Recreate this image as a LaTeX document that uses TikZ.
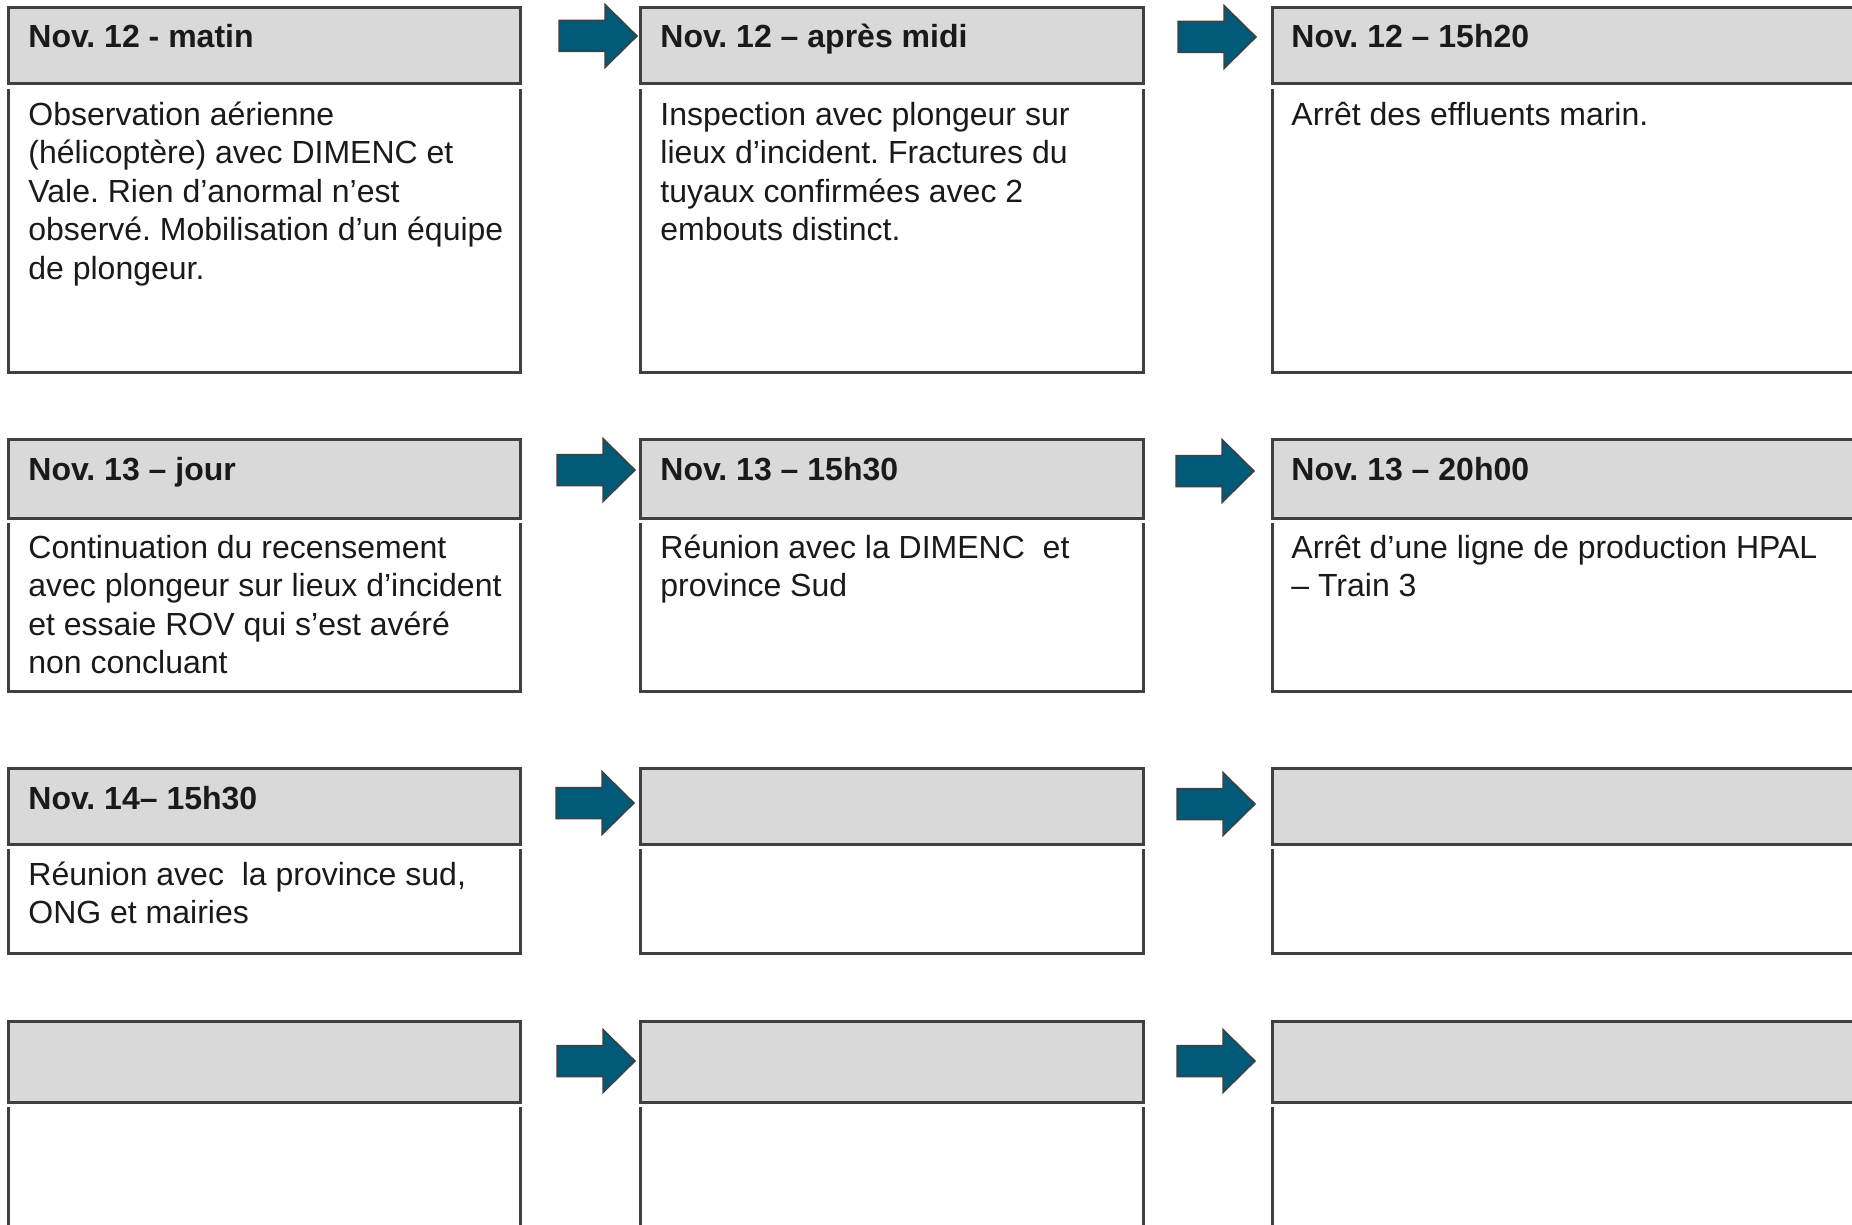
\documentclass[tikz,border=0pt]{standalone}
\usepackage{fontspec}
\setmainfont{Liberation Sans}
\frenchspacing
\definecolor{bordgray}{HTML}{404040}
\definecolor{hdrfill}{HTML}{D9D9D9}
\definecolor{arrfill}{HTML}{005A78}
\definecolor{txtcol}{HTML}{1A1A1A}
\tikzset{
  hdrbox/.style={draw=bordgray, fill=hdrfill, line width=1.5pt, anchor=north west, inner sep=0pt, outer sep=0pt},
  bodyline/.style={draw=bordgray, line width=1.5pt},
  hdrtext/.style={anchor=base west, inner sep=0pt, font=\bfseries\fontsize{16}{19.2}\selectfont, text=txtcol},
  bodytext/.style={anchor=north west, inner sep=0pt, align=left, font=\fontsize{16}{19.2}\selectfont, text=txtcol},
  blockarr/.style={draw=bordgray, fill=arrfill, line width=0.75pt, line join=miter},
}
\newcommand{\fl}{\rule{0pt}{12.5pt}}
\begin{document}
\begin{tikzpicture}[x=0.5pt,y=-0.5pt]
\path[use as bounding box] (0,0) rectangle (1852,1225);
\clip (0,0) rectangle (1852,1225);
\fill[white] (0,0) rectangle (1852,1225);
% boxes
\foreach \r/\T/\H/\B in {1/8/84/372, 2/439/518/691, 3/768/844/953, 4/1021/1102/1260}{
  \foreach \c/\L/\R in {1/8/520, 2/640/1143, 3/1272/1900}{
    \draw[bodyline] (\L,\H+5) -- (\L,\B) -- (\R,\B) -- (\R,\H+5);
    \node[hdrbox, minimum width={(\R-\L)*0.5pt}, minimum height={(\H-\T)*0.5pt}] (h\r\c) at (\L,\T) {};
  }
}
% arrows
\foreach \ax/\ay in {559/36, 1178/37, 557/470, 1176/471, 556/803, 1177/804, 557/1061, 1177/1061}{
  \filldraw[blockarr] (\ax,\ay-15.5) -- (\ax+46,\ay-15.5) -- (\ax+46,\ay-31.5) -- (\ax+78,\ay)
    -- (\ax+46,\ay+31.5) -- (\ax+46,\ay+15.5) -- (\ax,\ay+15.5) -- cycle;
}
% header texts
\node[hdrtext] (t11) at (28,48) {Nov. 12 - matin};
\node[hdrtext] (t12) at (660,48) {Nov. 12 – après midi};
\node[hdrtext] (t13) at (1291,48) {Nov. 12 – 15h20};
\node[hdrtext] (t21) at (28,480) {Nov. 13 – jour};
\node[hdrtext] (t22) at (660,480) {Nov. 13 – 15h30};
\node[hdrtext] (t23) at (1291,480) {Nov. 13 – 20h00};
\node[hdrtext] (t31) at (28,809) {Nov. 14– 15h30};
% body texts
\node[bodytext] (b11) at (28,100) {\fl Observation aérienne\\(hélicoptère) avec DIMENC et\\Vale. Rien d’anormal n’est\\observé. Mobilisation d’un équipe\\de plongeur.};
\node[bodytext] (b12) at (660,100) {\fl Inspection avec plongeur sur\\lieux d’incident. Fractures du\\tuyaux confirmées avec 2\\embouts distinct.};
\node[bodytext] (b13) at (1291,100) {\fl Arrêt des effluents marin.};
\node[bodytext] (b21) at (28,533) {\fl Continuation du recensement\\avec plongeur sur lieux d’incident\\et essaie ROV qui s’est avéré\\non concluant};
\node[bodytext] (b22) at (660,533) {\fl Réunion avec la DIMENC~ et\\province Sud};
\node[bodytext] (b23) at (1291,533) {\fl Arrêt d’une ligne de production HPAL\\– Train 3};
\node[bodytext] (b31) at (28,860) {\fl Réunion avec~ la province sud,\\ONG et mairies};
\end{tikzpicture}
\end{document}
